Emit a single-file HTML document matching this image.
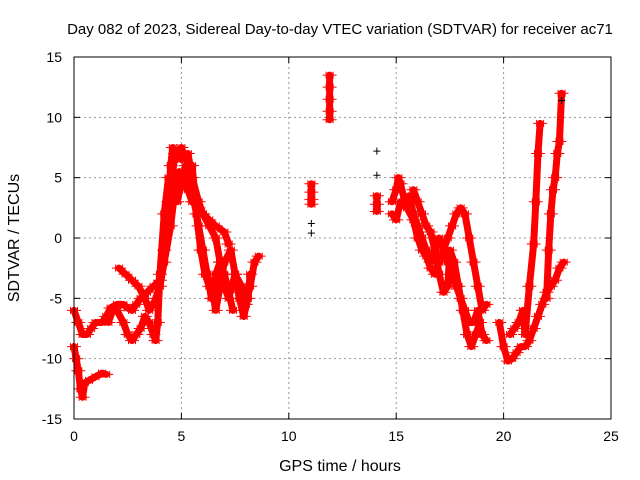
<!DOCTYPE html>
<html><head><meta charset="utf-8"><style>
body{margin:0;background:#fff;}
svg{display:block;font-family:"Liberation Sans",sans-serif;}
</style></head><body>
<svg id="chart" width="640" height="480">
<rect width="640" height="480" fill="#fff"/>
<text x="340" y="34" font-size="15" text-anchor="middle">Day 082 of 2023, Sidereal Day-to-day VTEC variation (SDTVAR) for receiver ac71</text>
<text x="340" y="471" font-size="16" text-anchor="middle">GPS time / hours</text>
<text transform="translate(19,238) rotate(-90)" font-size="16" text-anchor="middle">SDTVAR / TECUs</text>
<g id="grid"></g><g id="axes"></g><g id="series"></g>
<rect x="74" y="57" width="537" height="362" fill="none" stroke="#000" stroke-width="1"/>
</svg>
<script>
const xTicks=[0,5,10,15,20,25];
const yTicks=[-15,-10,-5,0,5,10,15];
const traceA_x=[0,0.2,0.4,0.6,0.8,1.0,1.3,1.5,1.7,2.0,2.3,2.5,2.7,2.9,3.1,3.4,3.7,4.0,4.2,4.4,4.5,4.6,4.8,5.0,5.3,5.5,5.8,6.0,6.3,6.6,6.8,7.0,7.2,7.5,7.8,8.0,8.2,8.4,8.6];
const traceA_y=[-6,-7,-8,-8,-7.5,-7,-7,-6.5,-5.8,-5.5,-5.5,-5.8,-6,-5.5,-5,-4.5,-4,-3.5,-1,3,6,7.5,7,6.5,7,5,3,2,1,0,-2,-4,-5,-3,-4,-5.5,-4,-2,-1.5];
const traceB_x=[0,0.1,0.2,0.3,0.4,0.5,0.7,1.0,1.3,1.5];
const traceB_y=[-9,-10,-11,-12.5,-13.2,-12,-11.8,-11.5,-11.2,-11.3];
const traceC_x=[1.6,1.8,2.0,2.3,2.5,2.7,2.9,3.1,3.3,3.5,3.7,3.8,3.9,4.0,4.2,4.4,4.6,4.8,5.0,5.2,5.4,5.6,5.8,6.0,6.2,6.4,6.6,6.8,7.0,7.2,7.4];
const traceC_y=[-7,-6,-6,-7,-8,-8.5,-8,-7.5,-6.5,-7,-8,-8.5,-7,-3,2,5,4,3,4.5,6,5,3,1,-1,-3,-5,-3,-2,-3,-4.5,-6];
const traceD_x=[2.1,2.4,2.7,3.0,3.3,3.5,3.7,4.0,4.2,4.5,4.7,4.9,5.1,5.3,5.5,5.8,6.0,6.3,6.6,7.0,7.2];
const traceD_y=[-2.5,-3,-3.5,-4,-5,-6,-5.5,-4,-2,1,4,5.5,5,4,3,2.5,2,1.5,1,0.5,-0.5];
const traceE_x=[4.5,4.7,5.0,5.2,5.5,5.7,5.9,6.1,6.3,6.5,6.6,6.8,7.0,7.3,7.5,7.7,7.9,8.1,8.2];
const traceE_y=[4,7,7.5,6.5,6,2,-1,-3,-4,-5,-6,-4,-2,-1,-3,-5,-6.5,-5,-3];
const traceF_x=[11.05,11.05,11.05,11.05];
const traceF_y=[4.5,3.8,3.2,2.8];
const traceG_x=[11.9,11.9,11.9,11.9,11.9];
const traceG_y=[13.5,12.5,11.5,10.5,9.8];
const traceH_x=[14.1,14.1,14.1];
const traceH_y=[3.5,2.8,2.2];
const traceR1_x=[14.8,15.0,15.1,15.2,15.4,15.6,15.8,16.0,16.2,16.4,16.6,16.8,17.0,17.2,17.4,17.6,17.8,18.0,18.2,18.4,18.6,18.8,19.0,19.2];
const traceR1_y=[3,4,5,4.5,3,3.5,2,1,0,-1,-2,-1,0,-1,-2,-3,-4,-5,-6,-7,-7,-6,-8,-8.5];
const traceR2_x=[14.8,15.0,15.2,15.5,15.8,16.0,16.2,16.4,16.6,16.8,17.0,17.2,17.4,17.6,17.8,18.0,18.2,18.4,18.6,18.8,19.0,19.2];
const traceR2_y=[2,1.5,3,2.5,1.5,0,-1,-1.5,-2.5,-3,-2,-1,0,1,2,2.5,2,0,-2,-4,-6,-5.5];
const traceR3_x=[15.8,16.0,16.2,16.4,16.6,16.8,17.0,17.2,17.4,17.5,17.7,17.9,18.1,18.3,18.5,18.7,18.9];
const traceR3_y=[4,3,2,1,0.5,-1,-3,-4.5,-4,-1,-2,-4,-6,-8,-9,-8,-7];
const traceR4_x=[19.8,20.0,20.2,20.4,20.6,20.8,21.0,21.2,21.4,21.6,21.8,22.0,22.2,22.4,22.6,22.8];
const traceR4_y=[-7,-9,-10.2,-10,-9.5,-9,-9,-8.5,-7.5,-6.5,-5.5,-4.5,-4,-3.5,-2.5,-2];
const traceR5_x=[20.3,20.5,20.7,20.9,21.0,21.2,21.4,21.5,21.6,21.7];
const traceR5_y=[-8,-7.5,-7,-6,-8,-4,-0.5,3,7,9.5];
const traceR6_x=[22.0,22.1,22.2,22.3,22.4,22.5,22.6,22.7];
const traceR6_y=[-5,-1,2,4,5,7,8,12];
const black_x=[11.05,11.05,14.1,14.1,22.7];
const black_y=[1.2,0.4,7.2,5.2,11.4];

const X0=74,X1=611,Y0=419,Y1=57;
const sx=v=>X0+(v-0)/(25-0)*(X1-X0);
const sy=v=>Y0-(v+15)/30*(Y0-Y1);
const NS="http://www.w3.org/2000/svg";
const mk=(t,a,p)=>{const e=document.createElementNS(NS,t);for(const k in a)e.setAttribute(k,a[k]);p.appendChild(e);return e;};
const grid=document.getElementById('grid'),axes=document.getElementById('axes'),ser=document.getElementById('series');
xTicks.forEach(t=>{const x=sx(t);
 if(t>0&&t<25){const g=mk('line',{x1:x,x2:x,y1:Y1,y2:Y0,stroke:'#999','stroke-dasharray':'2,3'},grid);
 
 }
 mk('line',{x1:x,x2:x,y1:Y0,y2:Y0-6,stroke:'#000'},axes);mk('line',{x1:x,x2:x,y1:Y1,y2:Y1+6,stroke:'#000'},axes);
 const l=mk('text',{x:x,y:Y0+22,'font-size':14,'text-anchor':'middle'},axes);l.textContent=t;
 
 });
yTicks.forEach(t=>{const y=sy(t);
 if(t>-15&&t<15){const g=mk('line',{x1:X0,x2:X1,y1:y,y2:y,stroke:'#999','stroke-dasharray':'2,3'},grid);
 
 }
 mk('line',{x1:X0,x2:X0+6,y1:y,y2:y,stroke:'#000'},axes);mk('line',{x1:X1,x2:X1-6,y1:y,y2:y,stroke:'#000'},axes);
 const l=mk('text',{x:X0-12,y:y+5,'font-size':14,'text-anchor':'end'},axes);l.textContent=t;
 
 });
const traces=[[traceA_x,traceA_y],[traceB_x,traceB_y],[traceC_x,traceC_y],[traceD_x,traceD_y],[traceE_x,traceE_y],[traceF_x,traceF_y],[traceG_x,traceG_y],[traceH_x,traceH_y],[traceR1_x,traceR1_y],[traceR2_x,traceR2_y],[traceR3_x,traceR3_y],[traceR4_x,traceR4_y],[traceR5_x,traceR5_y],[traceR6_x,traceR6_y]];
function plus(x,y,c,p){const d=`M${x-3.5},${y}h7M${x},${y-3.5}v7`;const e=mk('path',{d:d,stroke:c,'stroke-width':1},p);
 
 }
traces.forEach(([xs,ys])=>{const g=mk('g',{},ser);
 
 
 const pts=xs.map((v,i)=>sx(v)+','+sy(ys[i])).join(' ');
 mk('polyline',{points:pts,fill:'none',stroke:'#f00','stroke-width':7,'stroke-linejoin':'round','stroke-linecap':'round'},g);
 xs.forEach((v,i)=>{plus(sx(v)+3.5,sy(ys[i]),'#f00',g);plus(sx(v)-3.5,sy(ys[i]),'#f00',g);});});
black_x.forEach((v,i)=>plus(sx(v),sy(black_y[i]),'#000',ser));
</script>
</body></html>
